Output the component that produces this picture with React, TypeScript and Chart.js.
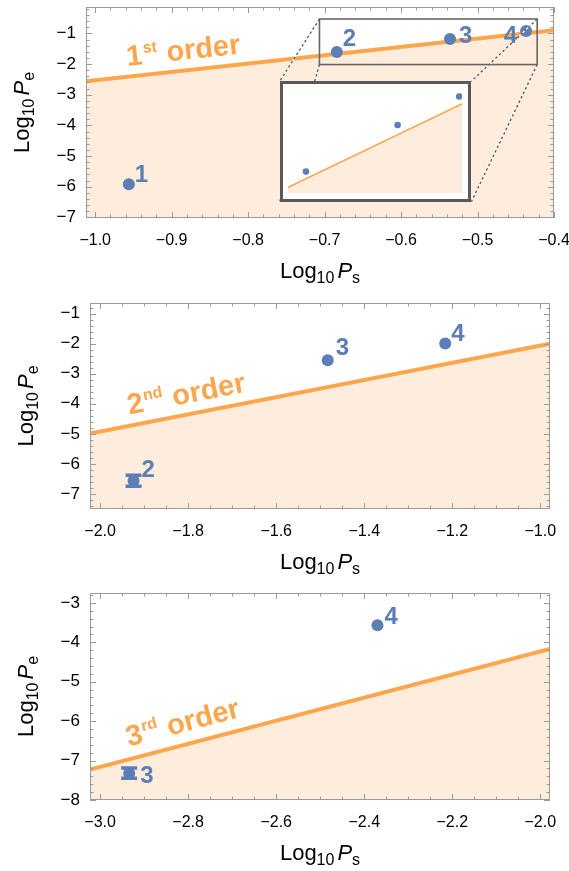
import React, { useEffect, useRef } from "react";
import { Chart, registerables } from "chart.js";
Chart.register(...registerables);

// ---------------- data ----------------
// Panel 1 — 1st order
const p1PointLabels = ["1", "2", "3", "4"];
const p1PointX = [-0.956, -0.684, -0.536, -0.4365];
const p1PointY = [-5.92, -1.605, -1.18, -0.92];
const p1PointErr = [0, 0, 0, 0];
const p1LineX = [-1.012, -0.4];
const p1LineY = [-2.56, -0.9];
const p1XTicks = [-1.0, -0.9, -0.8, -0.7, -0.6, -0.5, -0.4];
const p1YTicks = [-7, -6, -5, -4, -3, -2, -1];
const p1XRange = [-1.012, -0.4];
const p1YRange = [-7.02, -0.14];

// Inset of panel 1 (zoomed region and inset box, in panel-1 data units)
const zoomBoxX = [-0.7067, -0.422];
const zoomBoxY = [-2.017, -0.532];
const insetBoxX = [-0.7587, -0.508];
const insetBoxY = [-6.49, -2.56];
const insetXRange = [-0.713, -0.432];
const insetYRange = [-1.8, -0.87];

// Panel 2 — 2nd order
const p2PointLabels = ["2", "3", "4"];
const p2PointX = [-1.924, -1.483, -1.216];
const p2PointY = [-6.56, -2.55, -2.0];
const p2PointErr = [0.18, 0, 0];
const p2LineX = [-2.023, -0.978];
const p2LineY = [-4.99, -2.0];
const p2XTicks = [-2.0, -1.8, -1.6, -1.4, -1.2, -1.0];
const p2YTicks = [-7, -6, -5, -4, -3, -2, -1];
const p2XRange = [-2.023, -0.978];
const p2YRange = [-7.5, -0.65];

// Panel 3 — 3rd order
const p3PointLabels = ["3", "4"];
const p3PointX = [-2.934, -2.37];
const p3PointY = [-7.32, -3.57];
const p3PointErr = [0.13, 0];
const p3LineX = [-3.023, -1.978];
const p3LineY = [-7.23, -4.17];
const p3XTicks = [-3.0, -2.8, -2.6, -2.4, -2.2, -2.0];
const p3YTicks = [-8, -7, -6, -5, -4, -3];
const p3XRange = [-3.023, -1.978];
const p3YRange = [-8.0, -2.75];

// ---------------- style ----------------
const FONT = '"Liberation Sans", Arial, Helvetica, sans-serif';
const ORANGE = "rgb(255,166,77)";
const FILL = "rgb(254,236,220)";
const BLUE = "rgb(92,125,181)";
const FRAME = "#9a9a9a";

type LabelPos = [number, number, "left" | "right"];

type Panel = {
  top: number;
  height: number;
  padTop: number;
  padRight: number;
  leftW: number;
  bottomH: number;
  xRange: number[];
  yRange: number[];
  xTicks: number[];
  yTicks: number[];
  xMinor: number;
  yMinor: number;
  lineX: number[];
  lineY: number[];
  ptX: number[];
  ptY: number[];
  ptErr: number[];
  ptLabels: string[];
  labelPos: LabelPos[];
  orderNum: string;
  orderSup: string;
  orderAt: number[];
  inset?: boolean;
};

const panels: Panel[] = [
  {
    top: 0, height: 290, padTop: 7, padRight: 15, leftW: 86, bottomH: 72,
    xRange: p1XRange, yRange: p1YRange, xTicks: p1XTicks, yTicks: p1YTicks,
    xMinor: 0.02, yMinor: 0.2,
    lineX: p1LineX, lineY: p1LineY,
    ptX: p1PointX, ptY: p1PointY, ptErr: p1PointErr, ptLabels: p1PointLabels,
    labelPos: [[6, -2, "left"], [6, -6, "left"], [9, 4, "left"], [-9, 12, "right"]],
    orderNum: "1", orderSup: "st", orderAt: [-0.958, -2.06],
    inset: true,
  },
  {
    top: 290, height: 290, padTop: 13, padRight: 19, leftW: 90, bottomH: 71,
    xRange: p2XRange, yRange: p2YRange, xTicks: p2XTicks, yTicks: p2YTicks,
    xMinor: 0.05, yMinor: 0.2,
    lineX: p2LineX, lineY: p2LineY,
    ptX: p2PointX, ptY: p2PointY, ptErr: p2PointErr, ptLabels: p2PointLabels,
    labelPos: [[8, -4, "left"], [8, -5, "left"], [6, -3, "left"]],
    orderNum: "2", orderSup: "nd", orderAt: [-1.934, -4.36],
  },
  {
    top: 580, height: 291, padTop: 13, padRight: 19, leftW: 90, bottomH: 71,
    xRange: p3XRange, yRange: p3YRange, xTicks: p3XTicks, yTicks: p3YTicks,
    xMinor: 0.05, yMinor: 0.2,
    lineX: p3LineX, lineY: p3LineY,
    ptX: p3PointX, ptY: p3PointY, ptErr: p3PointErr, ptLabels: p3PointLabels,
    labelPos: [[11, 10, "left"], [7, -1, "left"]],
    orderNum: "3", orderSup: "rd", orderAt: [-2.935, -6.64],
  },
];

const fmt = (v: number, d: number) => {
  const s = Math.abs(v) < 1e-9 ? (0).toFixed(d) : Math.abs(v).toFixed(d);
  return v < 0 ? "\u2212" + s : s;
};

function drawLogTitle(ctx: CanvasRenderingContext2D, sub: string) {
  // draws centered at x=0, baseline at y=0
  const big = `22px ${FONT}`;
  const small = `16px ${FONT}`;
  const ital = `italic 22px ${FONT}`;
  ctx.font = big;
  const wLog = ctx.measureText("Log").width;
  ctx.font = small;
  const w10 = ctx.measureText("10").width;
  ctx.font = ital;
  const wP = ctx.measureText("P").width;
  ctx.font = small;
  const wS = ctx.measureText(sub).width;
  const gap = 3;
  const total = wLog + w10 + gap + wP + wS;
  let x = -total / 2;
  ctx.textAlign = "left";
  ctx.textBaseline = "alphabetic";
  ctx.font = big;
  ctx.fillText("Log", x, 0);
  x += wLog;
  ctx.font = small;
  ctx.fillText("10", x, 5);
  x += w10 + gap;
  ctx.font = ital;
  ctx.fillText("P", x, 0);
  x += wP;
  ctx.font = small;
  ctx.fillText(sub, x, 5);
}

function makePlugins(p: Panel) {
  const frame = {
    id: "frameTicks",
    afterDatasetsDraw(chart: any) {
      const { ctx, chartArea: a, scales } = chart;
      const xs = scales.x;
      const ys = scales.y;
      ctx.save();
      ctx.strokeStyle = FRAME;
      ctx.lineWidth = 1;
      const isMajor = (v: number, majors: number[]) => majors.some((m) => Math.abs(m - v) < 1e-6);
      const x0 = Math.ceil(p.xRange[0] / p.xMinor - 1e-6);
      const x1 = Math.floor(p.xRange[1] / p.xMinor + 1e-6);
      ctx.beginPath();
      for (let i = x0; i <= x1; i++) {
        const v = i * p.xMinor;
        const len = isMajor(v, p.xTicks) ? 6 : 3.5;
        const px = Math.round(xs.getPixelForValue(v)) + 0.5;
        ctx.moveTo(px, a.bottom);
        ctx.lineTo(px, a.bottom - len);
        ctx.moveTo(px, a.top);
        ctx.lineTo(px, a.top + len);
      }
      const y0 = Math.ceil(p.yRange[0] / p.yMinor - 1e-6);
      const y1 = Math.floor(p.yRange[1] / p.yMinor + 1e-6);
      for (let i = y0; i <= y1; i++) {
        const v = i * p.yMinor;
        const len = isMajor(v, p.yTicks) ? 6 : 3.5;
        const py = Math.round(ys.getPixelForValue(v)) + 0.5;
        ctx.moveTo(a.left, py);
        ctx.lineTo(a.left + len, py);
        ctx.moveTo(a.right, py);
        ctx.lineTo(a.right - len, py);
      }
      ctx.stroke();
      ctx.strokeRect(a.left + 0.5, a.top + 0.5, a.right - a.left - 1, a.bottom - a.top - 1);
      ctx.restore();
    },
    afterDraw(chart: any) {
      const { ctx, chartArea: a } = chart;
      ctx.save();
      ctx.fillStyle = "#000";
      ctx.translate((a.left + a.right) / 2, a.bottom + 60);
      drawLogTitle(ctx, "s");
      ctx.restore();
      ctx.save();
      ctx.fillStyle = "#000";
      ctx.translate(a.left - 57, (a.top + a.bottom) / 2);
      ctx.rotate(-Math.PI / 2);
      drawLogTitle(ctx, "e");
      ctx.restore();
    },
  };

  const notes = {
    id: "notes",
    afterDatasetsDraw(chart: any) {
      const { ctx, scales } = chart;
      const xs = scales.x;
      const ys = scales.y;
      const X = (v: number) => xs.getPixelForValue(v);
      const Y = (v: number) => ys.getPixelForValue(v);

      // inset zoom box and connectors
      if (p.inset) {
        const zl = X(zoomBoxX[0]), zr = X(zoomBoxX[1]), zt = Y(zoomBoxY[1]), zb = Y(zoomBoxY[0]);
        const il = X(insetBoxX[0]), ir = X(insetBoxX[1]), it = Y(insetBoxY[1]), ib = Y(insetBoxY[0]);
        const segs = [
          [zl, zt, il, it],
          [zl, zb, il, ib],
          [zr, zt, ir, it],
          [zr, zb, ir, ib],
        ];
        ctx.save();
        for (const s of segs) {
          ctx.beginPath();
          ctx.moveTo(s[0], s[1]);
          ctx.lineTo(s[2], s[3]);
          ctx.setLineDash([]);
          ctx.strokeStyle = "#ffffff";
          ctx.lineWidth = 1.3;
          ctx.stroke();
          ctx.setLineDash([2.5, 2.5]);
          ctx.strokeStyle = "#555555";
          ctx.stroke();
        }
        ctx.setLineDash([]);
        ctx.strokeStyle = "#666666";
        ctx.lineWidth = 1.6;
        ctx.strokeRect(zl, zt, zr - zl, zb - zt);
        ctx.restore();
      }

      // error bars
      ctx.save();
      ctx.strokeStyle = BLUE;
      for (let i = 0; i < p.ptX.length; i++) {
        const e = p.ptErr[i];
        if (!e) continue;
        const px = X(p.ptX[i]);
        const yt = Y(p.ptY[i] + e);
        const yb = Y(p.ptY[i] - e);
        ctx.lineWidth = 2;
        ctx.beginPath();
        ctx.moveTo(px, yt);
        ctx.lineTo(px, yb);
        ctx.stroke();
        ctx.lineWidth = 3.5;
        ctx.beginPath();
        ctx.moveTo(px - 8, yt);
        ctx.lineTo(px + 8, yt);
        ctx.moveTo(px - 8, yb);
        ctx.lineTo(px + 8, yb);
        ctx.stroke();
      }
      ctx.restore();

      // point labels
      ctx.save();
      ctx.fillStyle = BLUE;
      ctx.font = `bold 24px ${FONT}`;
      ctx.textBaseline = "alphabetic";
      for (let i = 0; i < p.ptX.length; i++) {
        const [dx, dy, al] = p.labelPos[i];
        ctx.textAlign = al;
        ctx.fillText(p.ptLabels[i], X(p.ptX[i]) + dx, Y(p.ptY[i]) + dy);
      }
      ctx.restore();

      // order label, rotated parallel to the line
      const ang = Math.atan2(
        Y(p.lineY[1]) - Y(p.lineY[0]),
        X(p.lineX[1]) - X(p.lineX[0])
      );
      ctx.save();
      ctx.translate(X(p.orderAt[0]), Y(p.orderAt[1]));
      ctx.rotate(ang);
      ctx.fillStyle = ORANGE;
      ctx.textAlign = "left";
      ctx.textBaseline = "alphabetic";
      ctx.font = `bold 29px ${FONT}`;
      ctx.fillText(p.orderNum, 0, 0);
      let w = ctx.measureText(p.orderNum).width;
      ctx.font = `bold 16px ${FONT}`;
      ctx.fillText(p.orderSup, w + 1, -11);
      w += 1 + ctx.measureText(p.orderSup).width;
      ctx.font = `bold 29px ${FONT}`;
      ctx.fillText("order", w + 9, 0);
      ctx.restore();
    },
  };
  return [frame, notes];
}

function makeConfig(p: Panel): any {
  const pts = p.ptX.map((x, i) => ({ x, y: p.ptY[i] }));
  const line = p.lineX.map((x, i) => ({ x, y: p.lineY[i] }));
  return {
    type: "scatter",
    data: {
      datasets: [
        {
          data: pts,
          pointRadius: 6,
          pointBackgroundColor: BLUE,
          pointBorderWidth: 0,
          pointHoverRadius: 6,
        },
        {
          type: "line",
          data: line,
          borderColor: ORANGE,
          borderWidth: 4,
          pointRadius: 0,
          tension: 0,
          fill: "start",
          backgroundColor: FILL,
        },
      ],
    },
    options: {
      responsive: false,
      animation: false,
      devicePixelRatio: 1,
      events: [],
      layout: { padding: { top: p.padTop, right: p.padRight, left: 0, bottom: 0 } },
      plugins: { legend: { display: false }, tooltip: { enabled: false } },
      scales: {
        x: {
          type: "linear",
          min: p.xRange[0],
          max: p.xRange[1],
          grid: { display: false, drawTicks: false },
          border: { display: false },
          afterBuildTicks: (s: any) => {
            s.ticks = p.xTicks.map((v) => ({ value: v }));
          },
          afterFit: (s: any) => {
            s.height = p.bottomH;
            s.paddingLeft = 0;
            s.paddingRight = 0;
          },
          ticks: {
            color: "#000",
            font: { family: FONT, size: 16 },
            padding: 13,
            maxRotation: 0,
            autoSkip: false,
            callback: (v: number) => fmt(v, 1),
          },
        },
        y: {
          type: "linear",
          min: p.yRange[0],
          max: p.yRange[1],
          grid: { display: false, drawTicks: false },
          border: { display: false },
          afterBuildTicks: (s: any) => {
            s.ticks = p.yTicks.map((v) => ({ value: v }));
          },
          afterFit: (s: any) => {
            s.width = p.leftW;
            s.paddingTop = 0;
            s.paddingBottom = 0;
          },
          ticks: {
            color: "#000",
            font: { family: FONT, size: 17 },
            padding: 10,
            autoSkip: false,
            callback: (v: number) => fmt(v, 0),
          },
        },
      },
    },
    plugins: makePlugins(p),
  };
}

const INSET_BORDER = 3;

function makeInsetConfig(): any {
  const pts = p1PointX.map((x, i) => ({ x, y: p1PointY[i] }));
  const line = p1LineX.map((x, i) => ({ x, y: p1LineY[i] }));
  const border = {
    id: "insetBorder",
    beforeDraw(chart: any) {
      const { ctx, width, height } = chart;
      ctx.save();
      ctx.fillStyle = "#fff";
      ctx.fillRect(0, 0, width, height);
      ctx.restore();
    },
    afterDraw(chart: any) {
      const { ctx, width, height } = chart;
      ctx.save();
      ctx.strokeStyle = "#595959";
      ctx.lineWidth = INSET_BORDER;
      ctx.strokeRect(INSET_BORDER / 2, INSET_BORDER / 2, width - INSET_BORDER, height - INSET_BORDER);
      ctx.restore();
    },
  };
  return {
    type: "scatter",
    data: {
      datasets: [
        { data: pts, pointRadius: 3.3, pointBackgroundColor: BLUE, pointBorderWidth: 0 },
        {
          type: "line",
          data: line,
          borderColor: ORANGE,
          borderWidth: 1.6,
          pointRadius: 0,
          tension: 0,
          fill: "start",
          backgroundColor: FILL,
        },
      ],
    },
    options: {
      responsive: false,
      animation: false,
      devicePixelRatio: 1,
      events: [],
      layout: { padding: { left: 8, right: 9, top: 10, bottom: 9 } },
      plugins: { legend: { display: false }, tooltip: { enabled: false } },
      scales: {
        x: { type: "linear", display: false, min: insetXRange[0], max: insetXRange[1] },
        y: { type: "linear", display: false, min: insetYRange[0], max: insetYRange[1] },
      },
    },
    plugins: [border],
  };
}

export default function App() {
  const refs = [useRef<HTMLCanvasElement>(null), useRef<HTMLCanvasElement>(null), useRef<HTMLCanvasElement>(null)];
  const insetRef = useRef<HTMLCanvasElement>(null);

  useEffect(() => {
    const charts: Chart[] = [];
    panels.forEach((p, i) => {
      const c = refs[i].current;
      if (c) charts.push(new Chart(c, makeConfig(p)));
    });
    const main = charts[0];
    const ic = insetRef.current;
    if (main && ic) {
      const xs: any = main.scales.x;
      const ys: any = main.scales.y;
      const l = Math.round(xs.getPixelForValue(insetBoxX[0]));
      const r = Math.round(xs.getPixelForValue(insetBoxX[1]));
      const t = Math.round(ys.getPixelForValue(insetBoxY[1]));
      const b = Math.round(ys.getPixelForValue(insetBoxY[0]));
      ic.style.left = l + "px";
      ic.style.top = t + "px";
      ic.width = r - l;
      ic.height = b - t;
      ic.style.width = r - l + "px";
      ic.style.height = b - t + "px";
      charts.push(new Chart(ic, makeInsetConfig()));
    }
    return () => charts.forEach((c) => c.destroy());
  }, []);

  return (
    <div style={{ position: "absolute", left: 0, top: 0, width: 569, height: 871, background: "#fff" }}>
      {panels.map((p, i) => (
        <div key={i} style={{ position: "absolute", left: 0, top: p.top, width: 569, height: p.height }}>
          <canvas ref={refs[i]} width={569} height={p.height} style={{ display: "block" }} />
          {p.inset && (
            <canvas ref={insetRef} style={{ position: "absolute", display: "block" }} />
          )}
        </div>
      ))}
    </div>
  );
}
